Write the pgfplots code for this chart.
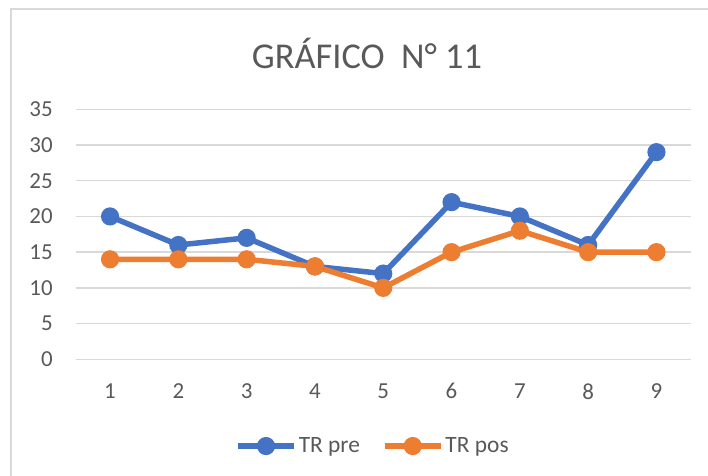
\documentclass[border=0pt]{standalone}
\usepackage{pgfplots}
\pgfplotsset{compat=1.18}
\usepackage{fontspec}
\setmainfont{Carlito}
\definecolor{cblue}{HTML}{4472C4}
\definecolor{corange}{HTML}{ED7D31}
\definecolor{ctext}{HTML}{595959}
\definecolor{cgrid}{HTML}{D9D9D9}
\begin{document}
\begin{tikzpicture}[x=1bp,y=1bp]
\useasboundingbox (0,0) rectangle (708,476);
\draw[cgrid, line width=1.5bp] (11,-2) -- (11,467) -- (710,467);
\node[ctext, font=\fontsize{36.5}{42}\selectfont] at (367,423) {GRÁFICO~~N° 11};
\begin{axis}[
  at={(75.9bp,116.7bp)}, anchor=south west,
  scale only axis, width=614.7bp, height=250bp,
  xmin=0.5, xmax=9.5, ymin=0, ymax=35,
  xtick={1,...,9}, ytick={0,5,...,35},
  axis line style={draw=none},
  major tick length=0pt,
  ymajorgrids, major grid style={cgrid, line width=1.5bp},
  /pgf/number format/assume math mode=true,
  tick label style={ctext, font=\fontsize{23}{26}\selectfont},
  yticklabel style={inner sep=0pt, anchor=east, xshift=-23bp},
  xticklabel style={inner sep=0pt, anchor=north, yshift=-24bp},
  legend columns=2,
  legend style={at={(0.4833,-0.347)}, anchor=center, draw=none, fill=none,
    font=\fontsize{23.5}{26}\selectfont, text=ctext,
    /tikz/every even column/.append style={column sep=20bp}},
  legend cell align=left,
  legend image code/.code={
    \draw[#1, mark repeat=2, mark phase=2] plot coordinates {(0bp,0bp) (28bp,0bp) (56bp,0bp)};
  },
]
\addplot[cblue, line width=5.5bp, mark=*, mark size=6.3bp, mark options={draw=none, fill=cblue}]
  coordinates {(1,20) (2,16) (3,17) (4,13) (5,12) (6,22) (7,20) (8,16) (9,29)};
\addlegendentry{TR pre}
\addplot[corange, line width=5.5bp, mark=*, mark size=6.3bp, mark options={draw=none, fill=corange}]
  coordinates {(1,14) (2,14) (3,14) (4,13) (5,10) (6,15) (7,18) (8,15) (9,15)};
\addlegendentry{TR pos}
\end{axis}
\end{tikzpicture}
\end{document}
